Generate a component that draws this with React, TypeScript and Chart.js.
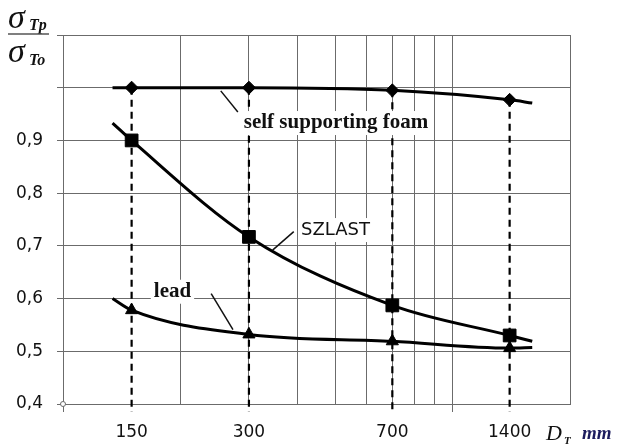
import { useEffect, useRef } from "react";
import { Chart, registerables } from "chart.js";

Chart.register(...registerables);

// ---- data ----
const diameters = [150, 300, 700, 1400];
const curveStartX = 134;
const curveEndX = 1600;
const foamValues = [1.0, 1.0, 0.995, 0.977];
const foamStart = 1.0;
const foamEnd = 0.971;
const szlastValues = [0.9, 0.717, 0.587, 0.53];
const szlastStart = 0.933;
const szlastEnd = 0.519;
const leadValues = [0.578, 0.532, 0.519, 0.506];
const leadStart = 0.6;
const leadEnd = 0.507;
const gridXTicks = [100, 200, 300, 400, 500, 600, 700, 800, 900, 1000, 2000];
const extendedXTicks = [100, 1000];
const yMin = 0.4;
const yMax = 1.1;
const yLastLabel = 0.9;
const dropBottom = 0.385;

const GRID = "#6b6b6b";
const SERIF = "'Liberation Serif', 'Times New Roman', serif";
const SANS = "'DejaVu Sans', Verdana, sans-serif";

function series(start: number, vals: number[], end: number) {
  return [
    { x: curveStartX, y: start },
    ...diameters.map((d, i) => ({ x: d, y: vals[i] })),
    { x: curveEndX, y: end },
  ];
}

const annotations = {
  id: "annotations",
  afterDatasetsDraw(chart: any) {
    const { ctx } = chart;
    const xs = chart.scales.x;
    const ys = chart.scales.y;
    const px = (v: number) => xs.getPixelForValue(v);
    const py = (v: number) => ys.getPixelForValue(v);
    ctx.save();

    const label = (text: string, font: string, xv: number, yv: number) => {
      ctx.font = font;
      const w = ctx.measureText(text).width;
      const x = px(xv);
      const y = py(yv);
      ctx.fillStyle = "#fff";
      ctx.fillRect(x - 3, y - 12, w + 6, 24);
      ctx.fillStyle = "#111";
      ctx.textBaseline = "middle";
      ctx.textAlign = "left";
      ctx.fillText(text, x, y);
    };
    const leader = (x1: number, y1: number, x2: number, y2: number) => {
      ctx.beginPath();
      ctx.moveTo(px(x1), py(y1));
      ctx.lineTo(px(x2), py(y2));
      ctx.strokeStyle = "#111";
      ctx.lineWidth = 1.5;
      ctx.stroke();
    };

    label("self supporting foam", `bold 21px ${SERIF}`, 291, 0.933);
    leader(254, 0.994, 281, 0.954);
    label("SZLAST", `18px ${SANS}`, 408, 0.73);
    leader(345, 0.692, 391, 0.727);
    label("lead", `bold 21px ${SERIF}`, 171, 0.613);
    leader(240, 0.6095, 273, 0.541);

    // origin circle
    const a = chart.chartArea;
    ctx.beginPath();
    ctx.arc(a.left, a.bottom, 2.5, 0, Math.PI * 2);
    ctx.fillStyle = "#fff";
    ctx.fill();
    ctx.strokeStyle = GRID;
    ctx.lineWidth = 1;
    ctx.stroke();

    // y-axis title: sigma_Tp / sigma_To
    ctx.fillStyle = "#111";
    ctx.textAlign = "left";
    ctx.textBaseline = "alphabetic";
    ctx.font = `italic 34px ${SERIF}`;
    ctx.fillText("σ", 8, 28);
    ctx.fillText("σ", 8, 62);
    ctx.font = `italic bold 16px ${SERIF}`;
    ctx.fillText("Tp", 29, 30);
    ctx.fillText("To", 29, 65);
    ctx.beginPath();
    ctx.moveTo(8, 34);
    ctx.lineTo(49, 34);
    ctx.strokeStyle = "#555";
    ctx.lineWidth = 1.5;
    ctx.stroke();

    // x-axis title: D_T mm
    ctx.fillStyle = "#111";
    ctx.font = `italic 22px ${SERIF}`;
    ctx.fillText("D", 546, 440);
    ctx.font = `italic bold 11px ${SERIF}`;
    ctx.fillText("T", 564, 444);
    ctx.fillStyle = "#1c1c5e";
    ctx.font = `italic bold 19px ${SERIF}`;
    ctx.fillText("mm", 582, 439);
    ctx.restore();
  },
};

export default function App() {
  const ref = useRef<HTMLCanvasElement | null>(null);
  useEffect(() => {
    if (!ref.current) return;
    const drops = diameters.map((d, i) => ({
      data: [
        { x: d, y: foamValues[i] },
        { x: d, y: dropBottom },
      ],
      borderColor: "#000",
      borderWidth: 2.2,
      borderDash: [7, 5],
      pointRadius: 0,
      clip: false,
      order: 10,
    }));
    const mk = (
      vals: { x: number; y: number }[],
      style: string,
      r: number
    ) => ({
      data: vals,
      borderColor: "#000",
      backgroundColor: "#000",
      borderWidth: 3,
      pointStyle: style,
      pointRadius: [0, r, r, r, r, 0],
      pointBorderWidth: 1,
      pointBackgroundColor: "#000",
      pointBorderColor: "#000",
      cubicInterpolationMode: "monotone",
      order: 1,
    });
    const chart = new Chart(ref.current, {
      type: "line",
      data: {
        datasets: [
          ...drops,
          mk(series(foamStart, foamValues, foamEnd), "rectRot", 6.5),
          mk(series(szlastStart, szlastValues, szlastEnd), "rect", 9),
          mk(series(leadStart, leadValues, leadEnd), "triangle", 7),
        ] as any,
      },
      options: {
        responsive: false,
        animation: false,
        events: [],
        layout: { padding: { top: 35, right: 47, left: 0, bottom: 0 } },
        plugins: { legend: { display: false }, tooltip: { enabled: false } },
        scales: {
          x: {
            type: "logarithmic",
            min: 100,
            max: 2000,
            afterBuildTicks: (scale: any) => {
              const vals = Array.from(new Set([...gridXTicks, ...diameters])).sort(
                (a, b) => a - b
              );
              scale.ticks = vals.map((v) => ({ value: v }));
            },
            afterFit: (scale: any) => {
              scale.height = 44;
            },
            ticks: {
              autoSkip: false,
              maxRotation: 0,
              padding: 10,
              color: "#111",
              font: { family: SANS, size: 17 },
              callback: (v: any) => (diameters.includes(Number(v)) ? String(v) : ""),
            },
            grid: {
              color: (c: any) =>
                c.tick && gridXTicks.includes(c.tick.value) ? GRID : "rgba(0,0,0,0)",
              tickColor: (c: any) =>
                c.tick && extendedXTicks.includes(c.tick.value) ? GRID : "rgba(0,0,0,0)",
              tickLength: 8,
              lineWidth: 1,
            },
            border: { color: GRID, width: 1 },
          },
          y: {
            type: "linear",
            min: yMin,
            max: yMax,
            afterFit: (scale: any) => {
              scale.width = 63;
            },
            ticks: {
              stepSize: 0.1,
              padding: 14,
              color: "#111",
              font: { family: SANS, size: 17 },
              callback: (v: any) =>
                Number(v) < yLastLabel + 0.05 ? Number(v).toFixed(1).replace(".", ",") : "",
            },
            grid: { color: GRID, tickLength: 6, lineWidth: 1 },
            border: { color: GRID, width: 1 },
          },
        },
      },
      plugins: [annotations],
    });
    return () => chart.destroy();
  }, []);
  return (
    <div style={{ position: "absolute", left: 0, top: 0 }}>
      <canvas ref={ref} width={617} height={448} />
    </div>
  );
}
